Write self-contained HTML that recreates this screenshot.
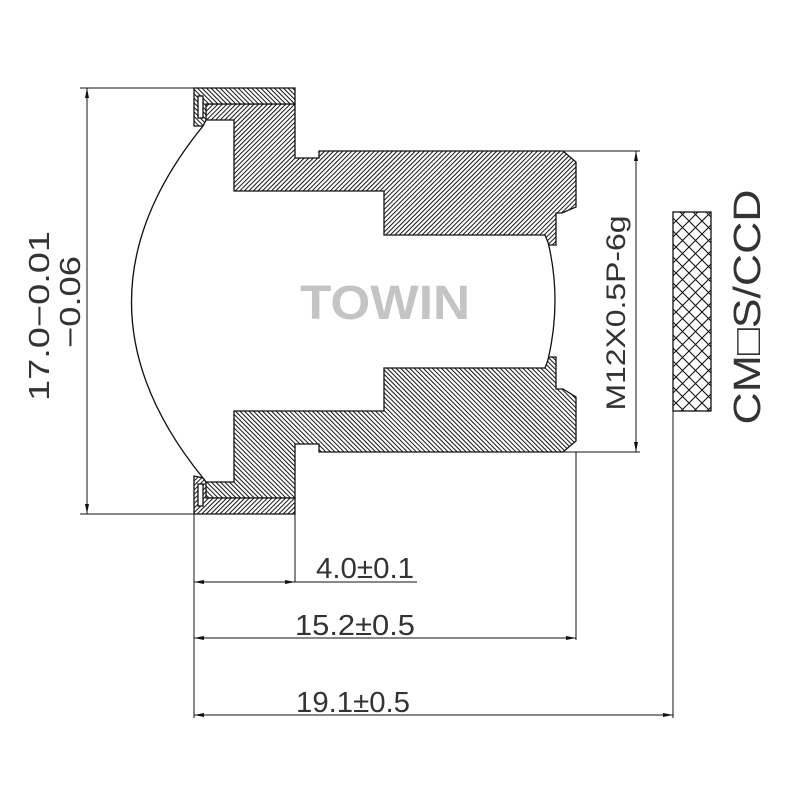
<!DOCTYPE html>
<html><head><style>body{margin:0;background:#fff}svg{display:block}</style></head><body>
<svg width="800" height="800" viewBox="0 0 800 800" xmlns="http://www.w3.org/2000/svg">
<defs>
<pattern id="h1" width="3.2" height="3.2" patternUnits="userSpaceOnUse" patternTransform="rotate(45)"><rect width="3.2" height="3.2" fill="#fff"/><line x1="0" y1="0" x2="0" y2="3.2" stroke="#111" stroke-width="2"/></pattern>
<pattern id="h2" width="3.2" height="3.2" patternUnits="userSpaceOnUse" patternTransform="rotate(-45)"><rect width="3.2" height="3.2" fill="#fff"/><line x1="0" y1="0" x2="0" y2="3.2" stroke="#111" stroke-width="2"/></pattern>
<pattern id="x" width="13" height="13" patternUnits="userSpaceOnUse"><path d="M0 0L13 13M13 0L0 13" stroke="#111" stroke-width="1.1"/></pattern>
<marker id="a" viewBox="0 0 10 6" refX="10" refY="3" markerWidth="10" markerHeight="6" orient="auto-start-reverse" markerUnits="userSpaceOnUse"><path d="M0 1L10 3L0 5z" fill="#111"/></marker>
</defs>
<g stroke="#111" stroke-width="1.3" fill="none">
<path d="M203 126 Q60 302 203 478"/>
<path d="M548 242 Q562 300 548 360"/>
<path fill="url(#h1)" d="M206 104 L295 104 L295 158 L319 158 L319 151 L563 151 L576 162 L576 207 L562 213 L556 213 L556 245 L549 245 L545 235 L384 235 L384 191 L234 191 L234 120 L206 120 L203 126 Z"/>
<path fill="url(#h2)" d="M194 88 L295 88 L295 104 L206 104 L206 120 L203 126 L194 126 Z"/>
<rect x="198" y="96" width="5" height="22" fill="#fff"/>
<path fill="url(#h2)" d="M206 498 L295 498 L295 444 L319 444 L319 452 L563 452 L576 441 L576 397 L563 389 L556 389 L556 357 L549 357 L545 368 L384 368 L384 411 L234 411 L234 482 L206 482 L203 478 Z"/>
<path fill="url(#h1)" d="M194 514 L295 514 L295 498 L206 498 L206 482 L203 478 L194 476 Z"/>
<rect x="198" y="484" width="5" height="22" fill="#fff"/>
<rect x="673" y="212" width="38" height="199" fill="url(#x)"/>
</g>
<g stroke="#111" stroke-width="1" fill="none">
<line x1="80" y1="88" x2="194" y2="88"/><line x1="80" y1="514" x2="194" y2="514"/>
<line x1="87" y1="88" x2="87" y2="514" marker-start="url(#a)" marker-end="url(#a)"/>
<line x1="563" y1="151" x2="640" y2="151"/><line x1="563" y1="452" x2="640" y2="452"/>
<line x1="636" y1="151" x2="636" y2="452" marker-start="url(#a)" marker-end="url(#a)"/>
<line x1="673" y1="411" x2="673" y2="718"/>
<line x1="194" y1="514" x2="194" y2="718"/>
<line x1="295" y1="514" x2="295" y2="582"/>
<line x1="576" y1="452" x2="576" y2="640"/>
<line x1="194" y1="582" x2="295" y2="582" marker-start="url(#a)" marker-end="url(#a)"/>
<line x1="295" y1="582" x2="417" y2="582"/>
<line x1="194" y1="638" x2="576" y2="638" marker-start="url(#a)" marker-end="url(#a)"/>
<line x1="194" y1="715" x2="673" y2="715" marker-start="url(#a)" marker-end="url(#a)"/>
</g>
<g font-family="Liberation Sans, sans-serif" fill="#333" font-size="29">
<text x="316" y="578" textLength="98" lengthAdjust="spacingAndGlyphs">4.0±0.1</text>
<text x="295" y="635" textLength="120" lengthAdjust="spacingAndGlyphs">15.2±0.5</text>
<text x="296" y="712" textLength="114" lengthAdjust="spacingAndGlyphs">19.1±0.5</text>
<text transform="translate(49,316) rotate(-90)" text-anchor="middle" textLength="170" lengthAdjust="spacingAndGlyphs">17.0−0.01</text>
<text transform="translate(80,302) rotate(-90)" text-anchor="middle" textLength="92" lengthAdjust="spacingAndGlyphs">−0.06</text>
<text transform="translate(625,313) rotate(-90)" text-anchor="middle" font-size="27" textLength="195" lengthAdjust="spacingAndGlyphs">M12X0.5P-6g</text>
<text transform="translate(760,307) rotate(-90)" text-anchor="middle" font-size="38" textLength="235" lengthAdjust="spacingAndGlyphs">CM□S/CCD</text>
</g>
<text x="385" y="319" text-anchor="middle" font-family="Liberation Sans, sans-serif" font-weight="bold" font-size="48" fill="#c4c4c4" textLength="170" lengthAdjust="spacingAndGlyphs">TOWIN</text>
</svg>
</body></html>
